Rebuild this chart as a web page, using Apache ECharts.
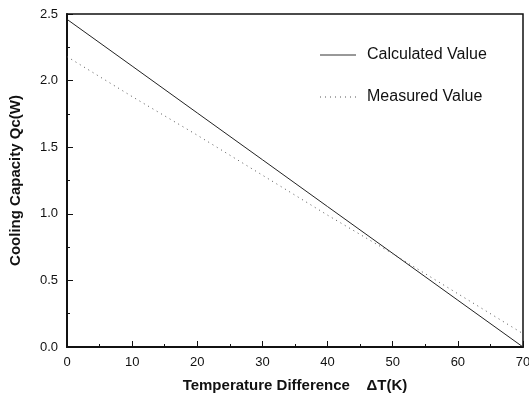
<!DOCTYPE html>
<html><head><meta charset="utf-8">
<script src="https://cdn.jsdelivr.net/npm/echarts@6/dist/echarts.min.js"></script>
<style>html,body{margin:0;padding:0;background:#fff}#c{width:529px;height:395px}</style>
</head><body><div id="c"></div>
<script>
const deltaT = [0, 10, 20, 30, 40, 50, 60, 70];
const calculated = [2.46, 2.109, 1.757, 1.406, 1.054, 0.703, 0.351, 0.0];
const measured = [2.18, 1.88, 1.59, 1.29, 0.99, 0.70, 0.40, 0.10];
const seriesNames = ['Calculated Value', 'Measured Value'];
const xTitle = 'Temperature Difference    \u0394T(K)';
const yTitle = 'Cooling Capacity Qc(W)';

const chart = echarts.init(document.getElementById('c'));
const font = 'Arial, "Liberation Sans", sans-serif';
const lineStyles = [
  { stroke: '#333', lineWidth: 1 },
  { stroke: '#555', lineWidth: 1, lineDash: [1, 4] }
];
const legendGraphics = [];
seriesNames.forEach((n, i) => {
  const y = 55 + i * 42;
  legendGraphics.push({ type: 'line', shape: { x1: 320, y1: y, x2: 356, y2: y }, style: lineStyles[i], silent: true });
  legendGraphics.push({ type: 'text', x: 367, y: y, style: { text: n, fill: '#111', font: '16px ' + font, textVerticalAlign: 'middle', verticalAlign: 'middle' }, silent: true });
});
chart.setOption({
  animation: false,
  backgroundColor: '#fff',
  grid: { left: 67, right: 6, top: 14, bottom: 48, show: true, borderColor: '#111', borderWidth: 1.5,
          containLabel: false, outerBoundsMode: 'none' },
  graphic: legendGraphics,
  xAxis: {
    type: 'value', min: 0, max: 70, interval: 10,
    name: xTitle, nameLocation: 'middle', nameGap: 31,
    nameTextStyle: { fontFamily: font, fontSize: 15, fontWeight: 'bold', color: '#111' },
    axisLine: { lineStyle: { color: '#111', width: 2 } },
    axisTick: { inside: true, length: 6, lineStyle: { color: '#111' } },
    minorTick: { show: true, splitNumber: 2, length: 3, lineStyle: { color: '#111' } },
    axisLabel: { fontFamily: font, fontSize: 13, color: '#111', margin: 9 },
    splitLine: { show: false }
  },
  yAxis: {
    type: 'value', min: 0, max: 2.5, interval: 0.5,
    name: yTitle, nameLocation: 'middle', nameGap: 44,
    nameTextStyle: { fontFamily: font, fontSize: 15, fontWeight: 'bold', color: '#111' },
    axisLine: { lineStyle: { color: '#111', width: 2 } },
    axisTick: { inside: true, length: 6, lineStyle: { color: '#111' } },
    minorTick: { show: true, splitNumber: 2, length: 3, lineStyle: { color: '#111' } },
    axisLabel: { fontFamily: font, fontSize: 13, color: '#111', margin: 9, formatter: v => v.toFixed(1) },
    splitLine: { show: false }
  },
  series: [
    { name: seriesNames[0], type: 'line', symbol: 'none', data: deltaT.map((x, i) => [x, calculated[i]]),
      lineStyle: { color: '#222', width: 1 } },
    { name: seriesNames[1], type: 'line', symbol: 'none', data: deltaT.map((x, i) => [x, measured[i]]),
      lineStyle: { color: '#555', width: 1, type: [1, 4] } }
  ]
});
</script></body></html>
